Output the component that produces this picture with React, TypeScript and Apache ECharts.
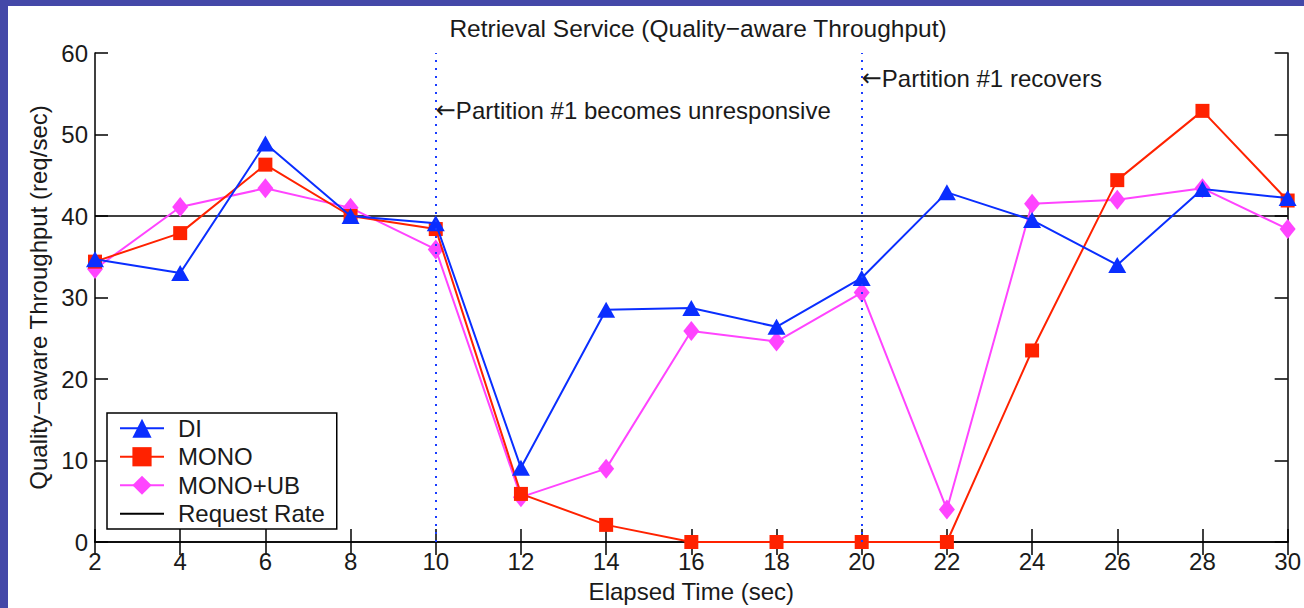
import React, { useEffect, useRef } from "react";
import * as echarts from "echarts";

const xValues = [2, 4, 6, 8, 10, 12, 14, 16, 18, 20, 22, 24, 26, 28, 30];
const diValues = [34.7, 33.0, 48.9, 40.0, 39.1, 9.1, 28.5, 28.7, 26.4, 32.4, 42.9, 39.5, 34.0, 43.3, 42.2];
const monoValues = [34.4, 37.9, 46.3, 40.0, 38.4, 5.9, 2.1, 0, 0, 0, 0, 23.5, 44.4, 52.9, 41.9];
const monoUbValues = [33.5, 41.1, 43.4, 41.0, 35.9, 5.5, 9.0, 25.9, 24.6, 30.6, 4.0, 41.5, 42.0, 43.4, 38.4];
const requestRate = 40;
const eventTimes = [10, 20];
const eventLabels = ["Partition #1 becomes unresponsive", "Partition #1 recovers"];
const eventLabelY = [53.0, 56.9];

const FONT = "'Liberation Sans', Arial, Helvetica, sans-serif";

export default function App() {
  const ref = useRef<HTMLDivElement>(null);
  useEffect(() => {
    if (!ref.current) return;
    const chart = echarts.init(ref.current, undefined, { renderer: "svg" });
    const pair = (vals: number[]) => xValues.map((x, i) => [x, vals[i]]);
    const axisText = { color: "#1a1a1a", fontSize: 24, fontFamily: FONT };
    chart.setOption({
      animation: false,
      backgroundColor: "#ffffff",
      textStyle: { fontFamily: FONT },
      title: {
        text: "Retrieval Service (Quality\u2212aware Throughput)",
        left: 693,
        top: 11,
        textAlign: "center",
        textStyle: { fontSize: 24.5, fontWeight: "normal", color: "#1a1a1a", fontFamily: FONT },
      },
      graphic: [
        { type: "rect", shape: { x: 0, y: 0, width: 8, height: 608 }, style: { fill: "#4448a8" }, z: 100 },
        { type: "rect", shape: { x: 0, y: 0, width: 1304, height: 6 }, style: { fill: "#4448a8" }, z: 100 },
      ],
      grid: { left: 95, right: 13, top: 53, bottom: 65 },
      legend: {
        orient: "vertical",
        left: 107,
        top: 413,
        backgroundColor: "#ffffff",
        borderColor: "#000",
        borderWidth: 1.5,
        padding: [3, 12, 3, 12],
        itemGap: 4,
        itemWidth: 44,
        itemHeight: 24,
        textStyle: { fontSize: 24, color: "#1a1a1a", fontFamily: FONT, lineHeight: 24.5, padding: [0, 0, 0, 9] },
        data: [
          "DI",
          "MONO",
          "MONO+UB",
          { name: "Request Rate", itemStyle: { opacity: 0 } },
        ],
      },
      xAxis: [
        {
          type: "value",
          min: 2,
          max: 30,
          interval: 2,
          name: "Elapsed Time (sec)",
          nameLocation: "middle",
          nameGap: 37,
          nameTextStyle: axisText,
          axisLine: { lineStyle: { color: "#000", width: 1.5 } },
          axisTick: { inside: true, length: 13, lineStyle: { color: "#000", width: 1.5 } },
          axisLabel: { ...axisText, margin: 7 },
          splitLine: { show: false },
        },
        {
          type: "value",
          position: "top",
          min: 2,
          max: 30,
          interval: 2,
          axisLine: { lineStyle: { color: "#000", width: 1.5 } },
          axisTick: { inside: true, length: 13, lineStyle: { color: "#000", width: 1.5 } },
          axisLabel: { show: false },
          splitLine: { show: false },
        },
      ],
      yAxis: [
        {
          type: "value",
          min: 0,
          max: 60,
          interval: 10,
          name: "Quality\u2212aware Throughput (req/sec)",
          nameLocation: "middle",
          nameGap: 45,
          nameTextStyle: axisText,
          axisLine: { show: true, lineStyle: { color: "#000", width: 1.5 } },
          axisTick: { show: true, inside: true, length: 13, lineStyle: { color: "#000", width: 1.5 } },
          axisLabel: { ...axisText, margin: 7 },
          splitLine: { show: false },
        },
        {
          type: "value",
          position: "right",
          min: 0,
          max: 60,
          interval: 10,
          axisLine: { show: true, lineStyle: { color: "#000", width: 1.5 } },
          axisTick: { show: true, inside: true, length: 13, lineStyle: { color: "#000", width: 1.5 } },
          axisLabel: { show: false },
          splitLine: { show: false },
        },
      ],
      series: [
        {
          name: "Request Rate",
          type: "line",
          data: [[xValues[0], requestRate], [xValues[xValues.length - 1], requestRate]],
          symbol: "none",
          lineStyle: { color: "#000", width: 1.5 },
          itemStyle: { color: "#000" },
          z: 1,
          markLine: {
            silent: true,
            symbol: "none",
            label: { show: false },
            lineStyle: { color: "#1a3cff", type: [2, 6], width: 2 },
            data: eventTimes.map((t) => ({ xAxis: t })),
          },
          markPoint: {
            silent: true,
            symbol: "circle",
            symbolSize: 0,
            label: {
              show: true,
              position: "right",
              distance: 0,
              color: "#1a1a1a",
              fontSize: 24,
              fontFamily: FONT,
              formatter: (p: any) => "{a|\u2190}" + p.name,
              rich: {
                a: { fontFamily: "'DejaVu Sans', sans-serif", fontSize: 24, color: "#1a1a1a" },
              },
            },
            data: eventTimes.map((t, i) => ({ name: eventLabels[i], coord: [t, eventLabelY[i]] })),
          },
        },
        {
          name: "MONO+UB",
          type: "line",
          data: pair(monoUbValues),
          symbol: "diamond",
          symbolSize: [16, 20],
          lineStyle: { color: "#ff44ff", width: 2 },
          itemStyle: { color: "#ff44ff" },
          z: 2,
        },
        {
          name: "MONO",
          type: "line",
          data: pair(monoValues),
          symbol: "rect",
          symbolSize: 14,
          lineStyle: { color: "#ff2200", width: 2 },
          itemStyle: { color: "#ff2200" },
          z: 3,
        },
        {
          name: "DI",
          type: "line",
          data: pair(diValues),
          symbol: "triangle",
          symbolSize: [18, 16],
          lineStyle: { color: "#0a2eff", width: 2 },
          itemStyle: { color: "#0a2eff" },
          z: 4,
        },
      ],
    });
    return () => chart.dispose();
  }, []);
  return (
    <div
      ref={ref}
      style={{ position: "fixed", left: 0, top: 0, width: 1304, height: 608, background: "#fff" }}
    />
  );
}
